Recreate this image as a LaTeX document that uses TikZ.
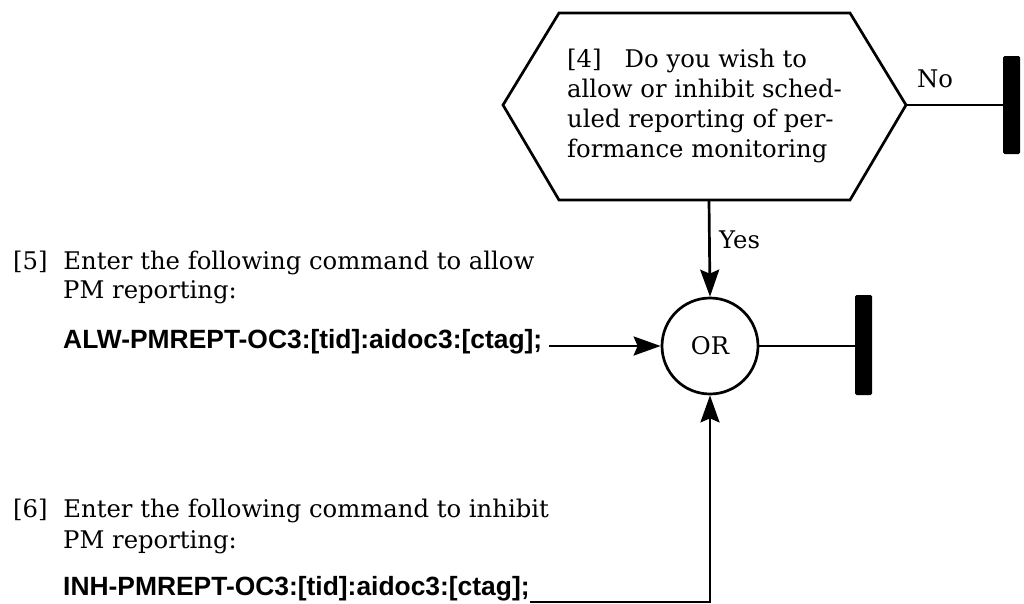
\documentclass[tikz,border=0pt]{standalone}
\usepackage{fontspec}
\setmainfont{DejaVu Serif}
\newfontfamily\cmdfont{Liberation Sans}[BoldFont={Liberation Sans Bold}]
\usetikzlibrary{arrows.meta}
\begin{document}
\begin{tikzpicture}[x=1pt,y=-1pt,
  line/.style={line width=2.7pt},
  flow/.style={line, -{Stealth[length=27pt,width=19pt,inset=4pt]}},
  endbar/.style={fill=black, rounded corners=1.5pt, inner sep=0pt,
                 minimum width=17pt, minimum height=98pt},
  prose/.style={anchor=base west, inner sep=0pt, font=\fontsize{24.3}{30}\selectfont},
  cmd/.style={anchor=base west, inner sep=0pt, font=\cmdfont\bfseries\fontsize{26.4}{30}\selectfont},
  gate/.style={circle, draw, line width=2.7pt, minimum size=96pt, inner sep=0pt,
               font=\fontsize{24.3}{30}\selectfont}]
\useasboundingbox (0,0) rectangle (1024,603);

% decision hexagon
\coordinate (hl) at (503,105);
\coordinate (htl) at (559,13);
\coordinate (htr) at (850,13);
\coordinate (hr) at (906,105);
\coordinate (hbr) at (850,200);
\coordinate (hbl) at (559,200);
\coordinate (hb) at (709,200);
\draw[line, line join=miter] (hl) -- (htl) -- (htr) -- (hr) -- (hbr) -- (hbl) -- cycle;
\node[prose] (q1) at (567,67) {[4]\hspace{0.95em}Do you wish to};
\node[prose] (q2) at (567,97) {allow or inhibit sched-};
\node[prose] (q3) at (567,127) {uled reporting of per-};
\node[prose] (q4) at (567,157) {formance monitoring};

% "No" branch ends at a terminator bar
\node[endbar] (barno) at (1011.5,105) {};
\draw[line] (hr) -- (barno.west);
\node[prose] (no) at (917,87) {No};

% OR gate
\node[gate] (or) at (710,346) {OR};
\draw[flow] (hb) -- (or.north);
\node[prose] (yes) at (719,248) {Yes};

% terminator after the OR gate
\node[endbar, minimum height=100pt] (baror) at (863.5,345) {};
\draw[line] (or.east) -- (or.east -| baror.west);

% step [5]
\node[prose] (s5a) at (13,269) {[5]\hspace{0.65em}Enter the following command to allow};
\node[prose] (s5b) at (63,298) {PM reporting:};
\node[cmd] (c5) at (63,348) {ALW-PMREPT-OC3:[tid]:aidoc3:[ctag];};
\draw[flow] ([xshift=7pt]c5.base east |- or.west) -- (or.west);

% step [6]
\node[prose] (s6a) at (13,517) {[6]\hspace{0.65em}Enter the following command to inhibit};
\node[prose] (s6b) at (63,548) {PM reporting:};
\node[cmd] (c6) at (63,595) {INH-PMREPT-OC3:[tid]:aidoc3:[ctag];};
\coordinate (c6end) at ([yshift=-7pt]c6.base east);
\draw[flow] (c6end) -| (or.south);
\end{tikzpicture}
\end{document}
